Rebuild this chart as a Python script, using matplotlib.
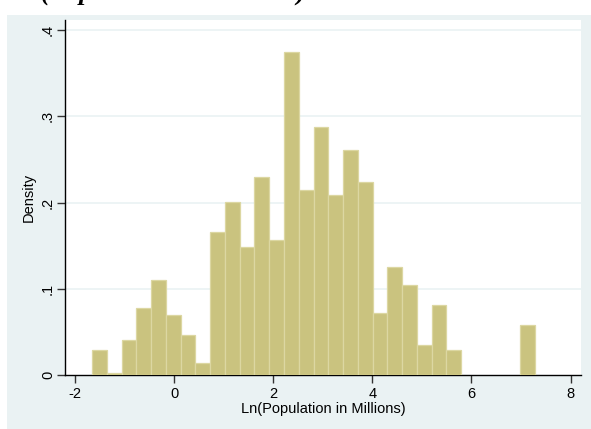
import matplotlib
matplotlib.use("Agg")
import matplotlib.pyplot as plt
from matplotlib.patches import Rectangle
import numpy as np

plt.rcParams['font.family'] = ['Liberation Sans', 'DejaVu Sans']

# histogram of ln(population), 30 equal bins
bin_min = -1.657
bin_max = 7.283
density = [0.0286, 0.0027, 0.0406, 0.0777, 0.110, 0.0692, 0.046, 0.0139,
           0.1654, 0.2002, 0.148, 0.2296, 0.1565, 0.374, 0.2141, 0.2872,
           0.2087, 0.2609, 0.2238, 0.0719, 0.1249, 0.1043, 0.0348, 0.0812,
           0.029, 0.0, 0.0, 0.0, 0.0, 0.058]
xticks = [-2, 0, 2, 4, 6, 8]
yticks = [0, 0.1, 0.2, 0.3, 0.4]
ylabels = ['0', '.1', '.2', '.3', '.4']

bg = '#EAF2F3'
fill = '#CAC37F'
edge = '#DCD7A2'

fig = plt.figure(figsize=(5.91, 4.29), dpi=100)
fig.patch.set_facecolor('white')
fig.patches.append(Rectangle((7 / 591, 0), 1, (429 - 15) / 429,
                             transform=fig.transFigure, facecolor=bg,
                             edgecolor='none', zorder=-5))

# heading line cut off at top of the graph
fig.text(41 / 591, 1.0, '(Population in Millions)', ha='left', va='baseline',
         fontsize=19, fontweight='bold', fontstyle='italic',
         family='Liberation Serif')

ax = fig.add_axes([65.3 / 591, 1 - 375 / 429, (581 - 65.3) / 591, (375 - 20) / 429])
ax.set_zorder(1)
ax.set_facecolor('white')

edges = np.linspace(bin_min, bin_max, len(density) + 1)
d = np.array(density)
keep = d > 0
ax.bar(edges[:-1][keep], d[keep], width=np.diff(edges)[keep], align='edge',
       color=fill, edgecolor=edge, linewidth=0.9, zorder=3)

ax.set_xlim(-2.196, 8.21)
ax.set_ylim(0, 0.4116)

for y in yticks[1:]:
    ax.axhline(y, color=bg, lw=1.2, zorder=1)

for s in ['top', 'right']:
    ax.spines[s].set_visible(False)
for s in ['left', 'bottom']:
    ax.spines[s].set_color('black')
    ax.spines[s].set_linewidth(1.0)

ax.set_xticks(xticks)
ax.set_xticklabels([str(t) for t in xticks])
ax.set_yticks(yticks)
ax.set_yticklabels(ylabels, rotation=90, va='center')
ax.tick_params(axis='both', direction='out', length=5.5, width=1,
               color='#333333', labelsize=10.5, labelcolor='black')
ax.tick_params(axis='x', pad=3)
ax.tick_params(axis='y', pad=2)

ax.set_xlabel('Ln(Population in Millions)', fontsize=10.5, labelpad=1)
ax.set_ylabel('Density', fontsize=10.5)
ax.yaxis.set_label_coords(-0.058, 0.5)

fig.savefig('out.png', dpi=100)
